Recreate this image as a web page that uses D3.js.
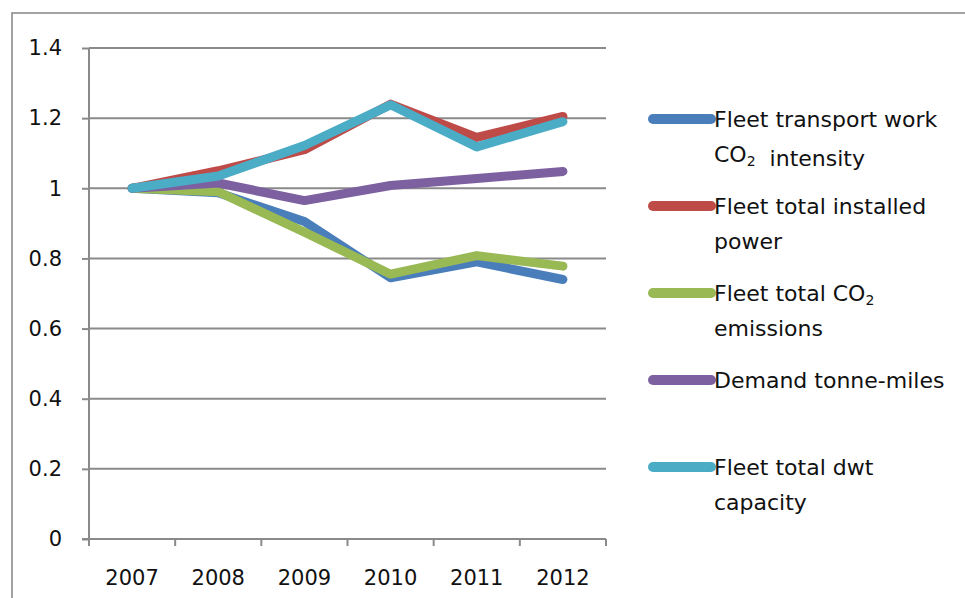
<!DOCTYPE html>
<html><head><meta charset="utf-8">
<script src="https://cdn.jsdelivr.net/npm/d3@7/dist/d3.min.js"></script>
<style>
html,body{margin:0;padding:0;background:#fff;}
svg{display:block;}
</style></head>
<body>
<svg id="chart" width="965" height="598"></svg>
<script>
const years = ["2007","2008","2009","2010","2011","2012"];
const yTicks = [0,0.2,0.4,0.6,0.8,1,1.2,1.4];
const intensity = [1.0,0.987,0.905,0.745,0.79,0.74];
const power     = [1.0,1.05,1.11,1.24,1.145,1.205];
const emissions = [1.0,0.99,0.875,0.755,0.808,0.778];
const demand    = [1.0,1.015,0.965,1.008,1.028,1.048];
const dwt       = [1.0,1.035,1.122,1.238,1.118,1.19];

const seriesNames = [
  ["Fleet transport work", "CO|2|  intensity"],
  ["Fleet total installed", "power"],
  ["Fleet total CO|2", "emissions"],
  ["Demand tonne-miles"],
  ["Fleet total dwt", "capacity"]
];
const seriesValues = [intensity, power, emissions, demand, dwt];
const seriesColors = ["#4a7ebb","#be4b48","#98b954","#7d60a0","#4bacc6"];

const svg = d3.select("#chart");
const font = "'DejaVu Sans', sans-serif";
const gridColor = "#8a8a8a";

// outer border
svg.append("rect").attr("x",12).attr("y",13).attr("width",1000).attr("height",1000)
  .attr("fill","none").attr("stroke","#8c8c8c").attr("stroke-width",1.6);

const x = d3.scaleBand().domain(years).range([89,606]);
const y = d3.scaleLinear().domain([0,1.4]).range([539,48]);

// gridlines
svg.append("g").selectAll("line").data(yTicks.filter(d=>d>0)).join("line")
  .attr("x1",x.range()[0]).attr("x2",x.range()[1])
  .attr("y1",d=>y(d)).attr("y2",d=>y(d))
  .attr("stroke",gridColor).attr("stroke-width",2);

// y axis
const yAxis = svg.append("g").attr("transform",`translate(${x.range()[0]},0)`)
  .call(d3.axisLeft(y).tickValues(yTicks).tickSize(7).tickPadding(20)
     .tickFormat(d=>d3.format("~g")(d)));
yAxis.select(".domain").remove();
yAxis.append("line").attr("x1",0).attr("x2",0).attr("y1",y(1.4)).attr("y2",y(0)+7)
  .attr("stroke",gridColor).attr("stroke-width",2);
yAxis.selectAll(".tick line").attr("stroke",gridColor).attr("stroke-width",2);
yAxis.selectAll("text").attr("font-family",font).attr("font-size",21).attr("fill","#111");

// x axis
const xAxis = svg.append("g").attr("transform",`translate(0,${y(0)})`)
  .call(d3.axisBottom(x).tickSize(0).tickPadding(31));
xAxis.select(".domain").remove();
xAxis.append("line").attr("x1",x.range()[0]-7).attr("x2",x.range()[1]).attr("y1",0).attr("y2",0)
  .attr("stroke",gridColor).attr("stroke-width",2);
const edges = years.map(d=>x(d)).concat([x(years[years.length-1])+x.bandwidth()]);
xAxis.append("g").selectAll("line").data(edges).join("line")
  .attr("x1",d=>d).attr("x2",d=>d).attr("y1",0).attr("y2",7)
  .attr("stroke",gridColor).attr("stroke-width",2);
xAxis.selectAll("text").attr("font-family",font).attr("font-size",21).attr("fill","#111");

// lines
const line = d3.line().x((d,i)=>x(years[i])+x.bandwidth()/2).y(d=>y(d));
svg.append("g").selectAll("path").data(seriesValues).join("path")
  .attr("d",d=>line(d)).attr("fill","none")
  .attr("stroke",(d,i)=>seriesColors[i]).attr("stroke-width",9)
  .attr("stroke-linecap","round").attr("stroke-linejoin","round");

// legend
const legendY = [119,206,293,380,467];
const lg = svg.append("g");
seriesNames.forEach((lines,i)=>{
  const g = lg.append("g").attr("transform",`translate(0,${legendY[i]})`);
  g.append("line").attr("x1",653).attr("x2",711).attr("y1",0).attr("y2",0)
    .attr("stroke",seriesColors[i]).attr("stroke-width",10).attr("stroke-linecap","round");
  lines.forEach((ln,j)=>{
    const t = g.append("text").attr("x",714).attr("y",j*35).attr("dy","0.36em")
      .attr("font-family",font).attr("font-size",22).attr("fill","#111")
      .attr("xml:space","preserve").style("white-space","pre");
    const parts = ln.split("|");
    parts.forEach((p,k)=>{
      if(k%2===1){
        t.append("tspan").attr("font-size",14).attr("dy","0.3em").text(p);
        t.append("tspan").attr("dy","-0.3em").text("");
      } else {
        t.append("tspan").text(p);
      }
    });
  });
});
</script>
</body></html>
